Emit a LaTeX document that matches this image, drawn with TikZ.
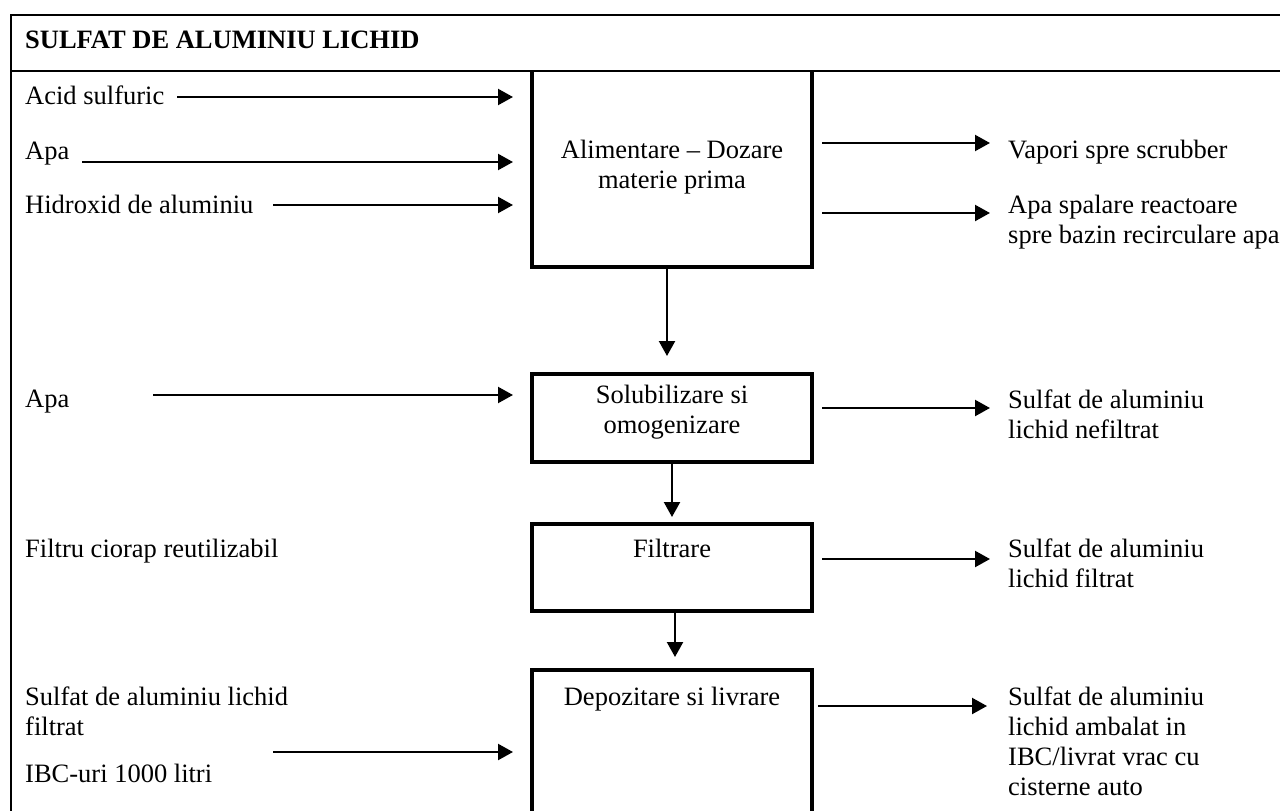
\documentclass[tikz,border=0pt]{standalone}
\usepackage{fontspec}
\setmainfont{Liberation Serif}
\usetikzlibrary{arrows.meta}
\newcommand\fstrut{\rule{0pt}{20pt}}
\begin{document}
\begin{tikzpicture}[x=1pt,y=-1pt,
  every node/.style={inner sep=0pt, font=\fontsize{26.5}{30}\selectfont},
  lbl/.style={anchor=base west, align=left},
  mlbl/.style={anchor=north west, align=left},
  boxtxt/.style={anchor=north, align=center},
  procbox/.style={rectangle, draw, line width=4.3pt, minimum width=280pt},
  flow/.style={line width=2.2pt, -{Triangle[length=15pt,width=16pt]}},
  frame/.style={line width=2pt}]
\useasboundingbox (0,0) rectangle (1280,811);
\clip (0,0) rectangle (1280,811);

% outer frame and header
\draw[frame] (11,15) rectangle (1300,840);
\draw[frame] (11,71) -- (1300,71);
\node[lbl, font=\fontsize{26.5}{30}\selectfont\bfseries] (title) at (25,48) {SULFAT DE ALUMINIU LICHID};

% process boxes
\node[rectangle, minimum width=280pt, minimum height=196pt] (b1) at (672,169) {};
\draw[line width=4.3pt] (b1.north west) |- (b1.south east) -- (b1.north east);
\node[boxtxt] (b1t) at (672,138) {\fstrut Alimentare – Dozare\\materie prima};

\node[procbox, minimum height=88pt] (b2) at (672,418) {};
\node[boxtxt] (b2t) at (672,383) {\fstrut Solubilizare si\\omogenizare};

\node[procbox, minimum height=87pt] (b3) at (672,567.5) {};
\node[boxtxt] (b3t) at (672,537) {\fstrut Filtrare};

\node[procbox, minimum height=180pt] (b4) at (672,760) {};
\node[boxtxt] (b4t) at (672,685) {\fstrut Depozitare si livrare};

% left labels
\node[lbl] (i1) at (25,104) {Acid sulfuric};
\node[lbl] (i2) at (25,159) {Apa};
\node[lbl] (i3) at (25,213) {Hidroxid de aluminiu};
\node[lbl] (i4) at (25,407) {Apa};
\node[lbl] (i5) at (25,557) {Filtru ciorap reutilizabil};
\node[mlbl] (i6) at (25,685) {\fstrut Sulfat de aluminiu lichid\\filtrat};
\node[lbl] (i7) at (25,782) {IBC-uri 1000 litri};

% right labels
\node[lbl] (o1) at (1008,158) {Vapori spre scrubber};
\node[mlbl] (o2) at (1008,193) {\fstrut Apa spalare reactoare\\spre bazin recirculare apa};
\node[mlbl] (o3) at (1008,388) {\fstrut Sulfat de aluminiu\\lichid nefiltrat};
\node[mlbl] (o4) at (1008,537) {\fstrut Sulfat de aluminiu\\lichid filtrat};
\node[mlbl] (o5) at (1008,685) {\fstrut Sulfat de aluminiu\\lichid ambalat in\\IBC/livrat vrac cu\\cisterne auto};

% arrow end points
\coordinate (a1s) at (177,97);  \coordinate (a1e) at (513,97);
\coordinate (a2s) at (82,162);  \coordinate (a2e) at (513,162);
\coordinate (a3s) at (273,205); \coordinate (a3e) at (513,205);
\coordinate (a4s) at (153,395); \coordinate (a4e) at (513,395);
\coordinate (a5s) at (273,752); \coordinate (a5e) at (513,752);
\coordinate (p1s) at (822,143); \coordinate (p1e) at (990,143);
\coordinate (p2s) at (822,213); \coordinate (p2e) at (990,213);
\coordinate (p3s) at (822,408); \coordinate (p3e) at (990,408);
\coordinate (p4s) at (822,559); \coordinate (p4e) at (990,559);
\coordinate (p5s) at (818,706); \coordinate (p5e) at (987,706);
\coordinate (d1e) at (667,356);
\coordinate (d2e) at (672,517);
\coordinate (d3e) at (675,657);

% inputs
\draw[flow] (a1s) -- (a1e);
\draw[flow] (a2s) -- (a2e);
\draw[flow] (a3s) -- (a3e);
\draw[flow] (a4s) -- (a4e);
\draw[flow] (a5s) -- (a5e);
% outputs
\draw[flow] (p1s) -- (p1e);
\draw[flow] (p2s) -- (p2e);
\draw[flow] (p3s) -- (p3e);
\draw[flow] (p4s) -- (p4e);
\draw[flow] (p5s) -- (p5e);
% between steps
\draw[flow] (b1.south -| d1e) -- (d1e);
\draw[flow] (b2.south -| d2e) -- (d2e);
\draw[flow] (b3.south -| d3e) -- (d3e);
\end{tikzpicture}
\end{document}
